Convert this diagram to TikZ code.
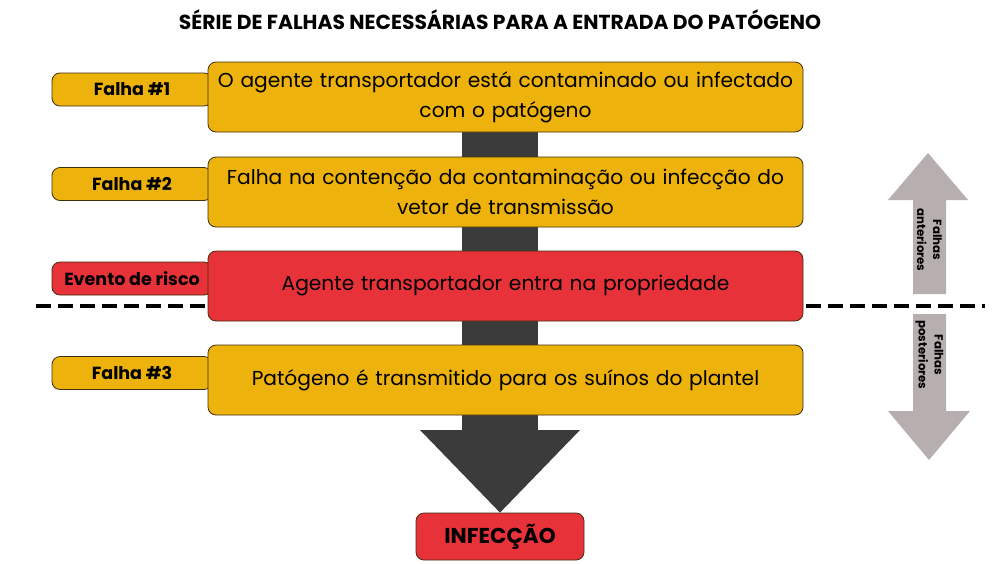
\documentclass[tikz,border=0pt]{standalone}
\usepackage{fontspec}
\setmainfont{Poppins}
\usepackage{tikz}
\definecolor{failyellow}{HTML}{EDB20C}
\definecolor{riskred}{HTML}{E8323A}
\definecolor{flowgray}{HTML}{3B3B3B}
\definecolor{sidegray}{HTML}{B7AFAF}
\definecolor{edgebrown}{HTML}{3E3010}

\begin{document}
\begin{tikzpicture}[x=1pt,y=-1pt,
  mainbox/.style={draw=edgebrown, line width=0.8pt, rounded corners=8pt, minimum width=595pt, minimum height=70pt,
    text width=585pt, align=center, inner sep=4pt, font=\fontsize{20.2}{30}\selectfont},
  tagbox/.style={draw=edgebrown, line width=0.8pt, rounded corners=8pt, minimum width=160pt, minimum height=33pt,
    inner sep=2pt, font=\bfseries\fontsize{17.5}{19}\selectfont},
  sidetext/.style={font=\bfseries\fontsize{11.8}{16}\selectfont, rotate=-90, align=center}]
\useasboundingbox (0,0) rectangle (1000,563);

% Title
\node[font=\bfseries\fontsize{20.3}{22}\selectfont] (title) at (500,20) {SÉRIE DE FALHAS NECESSÁRIAS PARA A ENTRADA DO PATÓGENO};

% Dark flow shaft behind the boxes
\fill[flowgray] (462,120) rectangle (538,431);

% Dividing line
\draw[line width=4pt, dash pattern=on 15pt off 7pt] (36,306) -- (985,306);

% Tags on the left
\node[tagbox, fill=failyellow] (tag1) at (132,89.5) {Falha \#1};
\node[tagbox, fill=failyellow] (tag2) at (132,184) {Falha \#2};
\node[tagbox, fill=riskred] (tagrisk) at (132,278.5) {Evento de risco};
\node[tagbox, fill=failyellow] (tag3) at (132,373) {Falha \#3};

% Steps
\node[mainbox, fill=failyellow] (step1) at (505.5,97) {O agente transportador está contaminado ou infectado\\com o patógeno};
\node[mainbox, fill=failyellow] (step2) at (505.5,192) {Falha na contenção da contaminação ou infecção do\\vetor de transmissão};
\node[mainbox, fill=riskred] (risk) at (505.5,286) {Agente transportador entra na propriedade};
\node[mainbox, fill=failyellow] (step3) at (505.5,380) {Patógeno é transmitido para os suínos do plantel};

% Outcome
\node[draw=edgebrown, line width=0.8pt, fill=riskred, rounded corners=8pt, minimum width=168pt, minimum height=47pt,
  font=\bfseries\fontsize{21.5}{23}\selectfont] (infec) at (500,536.5) {INFECÇÃO};
\fill[flowgray] (420,430) -- (580,430) -- (infec.north) -- cycle;

% Side arrows
\fill[sidegray] (913,294) -- (913,200) -- (888,200) -- (928,153) -- (968,200) -- (946,200) -- (946,294) -- cycle;
\fill[sidegray] (913,314) -- (913,411) -- (888,411) -- (929,460) -- (970,411) -- (946,411) -- (946,314) -- cycle;
\node[sidetext] (before) at (929.5,240) {Falhas\\anteriores};
\node[sidetext] (after) at (929.5,355) {Falhas\\posteriores};
\end{tikzpicture}
\end{document}
